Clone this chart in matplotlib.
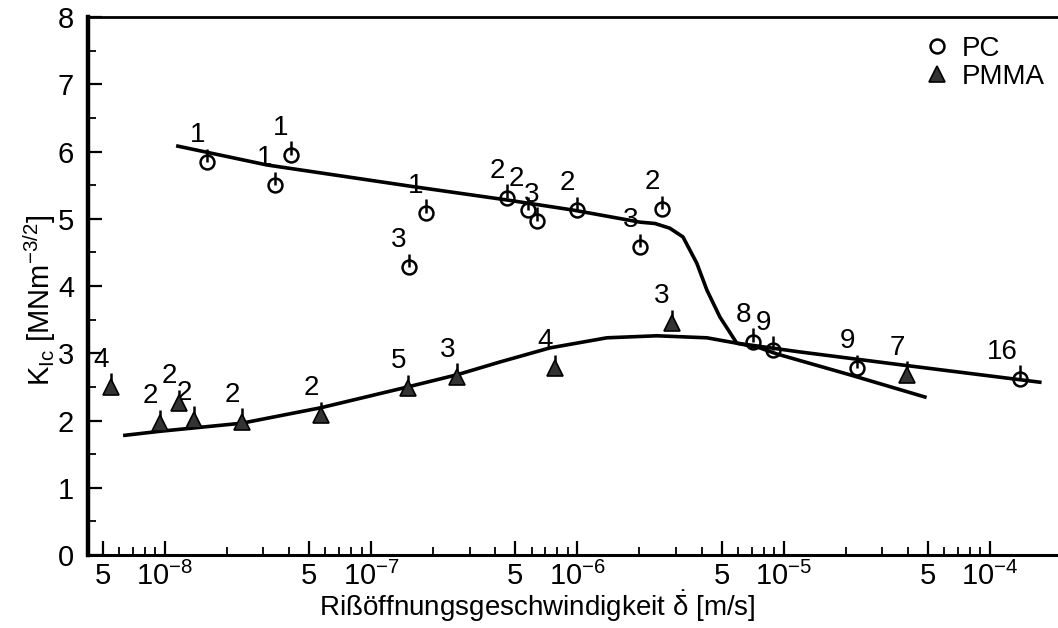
import numpy as np
import matplotlib
matplotlib.use("Agg")
import matplotlib.pyplot as plt
from matplotlib.ticker import FixedLocator, NullFormatter

plt.rcParams["font.family"] = ["Liberation Sans", "DejaVu Sans"]
plt.rcParams["mathtext.fontset"] = "custom"
plt.rcParams["mathtext.rm"] = "Liberation Sans"
plt.rcParams["mathtext.it"] = "Liberation Sans"

# PC measurements (crack opening velocity, K_Ic, number of tests)
pc_v = [1.6e-8, 3.41e-8, 4.08e-8, 1.84e-7, 1.52e-7, 4.55e-7, 5.75e-7, 6.37e-7,
        9.95e-7, 2.01e-6, 2.57e-6, 7.1e-6, 8.87e-6, 2.27e-5, 1.4e-4]
pc_k = [5.84, 5.50, 5.95, 5.09, 4.28, 5.31, 5.13, 4.97,
        5.13, 4.58, 5.14, 3.17, 3.05, 2.78, 2.62]
pc_n = ["1", "1", "1", "1", "3", "2", "2", "3", "2", "3", "2", "8", "9", "9", "16"]

# PMMA measurements
pmma_v = [5.47e-9, 9.46e-9, 1.17e-8, 1.38e-8, 2.36e-8, 5.70e-8, 1.51e-7,
          2.61e-7, 7.8e-7, 2.87e-6, 3.96e-5]
pmma_k = [2.50, 1.96, 2.26, 2.01, 1.98, 2.08, 2.48, 2.65, 2.78, 3.45, 2.68]
pmma_n = ["4", "2", "2", "2", "2", "2", "5", "3", "4", "3", "7"]

# fitted curves (log10 velocity, K_Ic)
pc_fit_logv = [-7.937, -7.505, -6.778, -6.342, -6.022, -5.697, -5.624, -5.552,
               -5.488, -5.421, -5.372, -5.309, -5.227, -5.115, -5.033, -4.679, -4.315]
pc_fit_k = [6.08, 5.80, 5.47, 5.28, 5.13, 4.95, 4.93, 4.86,
            4.73, 4.34, 3.94, 3.54, 3.15, 3.08, 2.99, 2.68, 2.35]
pmma_fit_logv = [-8.194, -8.024, -7.627, -7.244, -6.822, -6.584, -6.376, -6.133,
                 -5.857, -5.615, -5.372, -5.227, -4.921, -4.436, -3.758]
pmma_fit_k = [1.78, 1.84, 1.96, 2.19, 2.50, 2.68, 2.87, 3.08,
              3.23, 3.26, 3.23, 3.15, 3.02, 2.83, 2.57]

err_up = 0.2

fig = plt.figure(figsize=(10.58, 6.28), dpi=100)
ax = fig.add_axes([0.0832, 0.1162, 0.9168, 0.8567])

ax.plot(10 ** np.array(pc_fit_logv), pc_fit_k, color="black", lw=2.6, zorder=2)
ax.plot(10 ** np.array(pmma_fit_logv), pmma_fit_k, color="black", lw=2.6, zorder=2)

# one-sided scatter bars
ax.errorbar(pc_v, pc_k, yerr=[np.zeros(len(pc_k)), np.full(len(pc_k), err_up)],
            fmt="none", ecolor="black", elinewidth=1.8, capsize=0, zorder=3)
ax.errorbar(pmma_v, pmma_k, yerr=[np.zeros(len(pmma_k)), np.full(len(pmma_k), err_up)],
            fmt="none", ecolor="black", elinewidth=1.8, capsize=0, zorder=3)

ax.plot(pc_v, pc_k, "o", ms=10, mfc="none", mec="black", mew=1.8, zorder=4, label="PC")
ax.plot(pmma_v, pmma_k, "^", ms=12, mfc="#333333", mec="black", mew=1.2, zorder=4,
        label="PMMA")

labels = list(zip(pc_v + pmma_v, pc_k + pmma_k, pc_n + pmma_n))
for i, (v, k, n) in enumerate(labels):
    dx, dy = -2, 27
    # the two crowded PC labels near 6e-7 get pulled apart a little
    if i == 6:
        dx, dy = -4, 31
    elif i == 7:
        dx, dy = 2, 26
    ax.annotate(n, (v, k), xytext=(dx, dy), textcoords="offset pixels",
                ha="right", va="center", fontsize=20)

ax.set_xscale("log")
ax.set_xlim(4.24e-9, 2.14e-4)
ax.set_ylim(0, 8)

decades = [1e-8, 1e-7, 1e-6, 1e-5, 1e-4]
fives = [5e-9, 5e-8, 5e-7, 5e-6, 5e-5]
major = sorted(decades + fives)
ax.xaxis.set_major_locator(FixedLocator(major))
ax.set_xticklabels(["5" if m in fives else r"$10^{%d}$" % round(np.log10(m))
                    for m in major])
minor = [m * d for d in [1e-9, 1e-8, 1e-7, 1e-6, 1e-5] for m in [2, 3, 4, 6, 7, 8, 9]]
ax.xaxis.set_minor_locator(FixedLocator(minor))
ax.xaxis.set_minor_formatter(NullFormatter())

ax.set_yticks(range(0, 9))
ax.set_yticks(np.arange(0.5, 8, 1), minor=True)

ax.tick_params(which="major", direction="in", length=10, width=1.6, labelsize=21,
               top=False, right=False)
ax.tick_params(which="minor", direction="in", length=6, width=1.3,
               top=False, right=False)
ax.tick_params(axis="x", which="major", pad=5)
ax.tick_params(axis="y", which="major", pad=10)

ax.spines["left"].set_linewidth(3.2)
ax.spines["bottom"].set_linewidth(2.2)
ax.spines["top"].set_linewidth(2.0)
ax.spines["right"].set_visible(False)

ax.set_xlabel(r"Rißöffnungsgeschwindigkeit $\dot{\delta}$ [m/s]", fontsize=20)
ax.xaxis.set_label_coords(0.463, -0.062)
ax.set_ylabel(r"$K_{Ic}$ [MNm$^{-3/2}$]", fontsize=21)
ax.yaxis.set_label_coords(-0.031, 0.474)

ax.legend(loc="upper left", bbox_to_anchor=(0.852, 0.985), frameon=False, fontsize=20,
          handlelength=0.8, handletextpad=0.5, labelspacing=0.05, borderaxespad=0)

fig.savefig("out.png", dpi=100)
